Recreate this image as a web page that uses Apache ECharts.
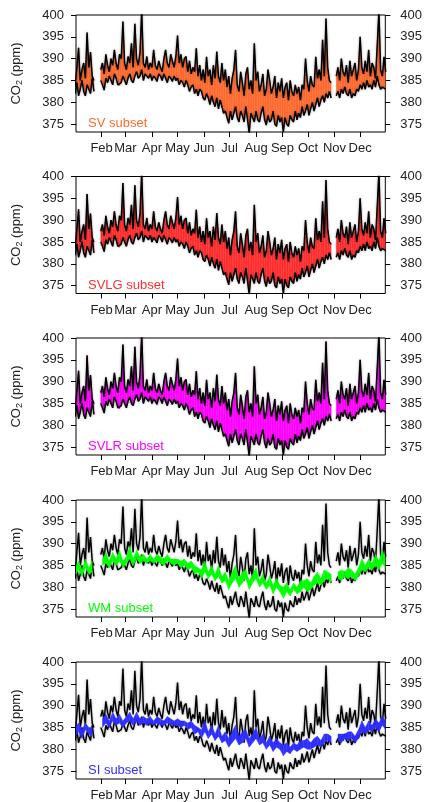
<!DOCTYPE html>
<html><head><meta charset="utf-8">
<script src="https://cdn.jsdelivr.net/npm/echarts@6/dist/echarts.min.js"></script>
<style>html,body{margin:0;padding:0;background:#fff}#c{width:425px;height:802px}</style>
</head><body><div id="c"></div>
<script>
// ---- axis ticks / labels ----
const monthTickDays = [32, 60, 91, 121, 152, 182, 213, 244, 274, 305, 335];
const monthLabels = ['Feb', 'Mar', 'Apr', 'May', 'Jun', 'Jul', 'Aug', 'Sep', 'Oct', 'Nov', 'Dec'];
const yTicks = [375, 380, 385, 390, 395, 400];
const panelNames = ['SV subset', 'SVLG subset', 'SVLR subset', 'WM subset', 'SI subset'];
const panelColors = ['#FF6A2F', '#FF2E2E', '#FF00FF', '#00FF00', '#2E2EFF'];

// ---- full-ensemble envelope, every 2nd day starting Jan 1 (ppm) ----
const ensembleUpper = [
  383.5, 388, 392.5, 385, 387.5, 389, 385.5, 396, 388, 391.5, 386, 385,
  null, null, null,
  387.5, 389, 386.5, 391, 388.5, 387, 390, 388.5, 392, 389, 387.5, 391, 390, 398.5, 389,
  387.5, 390.5, 389, 393.5, 388, 398, 390, 388.5, 391.5, 401, 389, 388, 390.5, 387.5, 389, 388,
  392, 388.5, 387.5, 389.5, 388, 387, 390, 392, 389, 388, 391, 389.5, 388, 390.5, 395.3,
  389, 391, 388, 390, 390.5, 387, 389.5, 386.5, 388, 387, 392.4, 386, 388.5, 385, 387.5,
  384.5, 390.4, 386, 387.5, 384, 388.5, 385.5, 391.6, 386, 384.5, 389, 385, 387.5, 383.5, 386,
  382, 385.5, 387.5, 392, 384, 382.5, 387, 384.5, 381.5, 386.5, 388, 383, 385, 382, 393.5,
  385, 387, 382.5, 384, 386.5, 381.5, 383, 387.5, 385, 382, 383.5, 386, 381, 384.5, 382.5, 385.5,
  381, 383.5, 384.5, 380.5, 385, 382.5, 381.5, 384, 382, 383.5, 380.5, 384, 383, 390, 385,
  382.5, 386, 384, 383.5, 390.4, 385.5, 387.5, 385, 394.3, 386, 399.2, 388, 385, 384.5,
  null, null, 386, 388, 385, 390, 387, 386, 388.5, 384.5, 389.5, 386, 387.5, 389, 385, 387.5, 395,
  388, 386.5, 389.5, 387, 392, 386, 389, 388, 385.5, 393, 401, 387.5, 386, 390.4, 387
];
const ensembleLower = [
  382, 384.5, 381.5, 383, 385, 382.5, 381.5, 384, 383, 382, 385.5, 382.5,
  null, null, null,
  385, 384, 382.8, 385.5, 384.5, 386, 385, 384, 386.5, 385.5, 384, 383.8, 384.5, 386, 385,
  384, 385.5, 386.5, 385, 384.5, 386, 387, 385.5, 386, 387.5, 385, 386.5, 386, 385.5, 386.5, 385,
  386, 385.5, 384.8, 386.5, 386, 385, 386.5, 385.5, 384.5, 386, 385.5, 384.8, 386, 385, 385.5,
  384, 385, 384.5, 383.5, 385, 384, 382.5, 383.5, 384, 382, 383, 381.5, 383, 382.5, 381,
  380.5, 382, 381, 379.5, 381.5, 380, 379, 381, 378.5, 380.5, 379, 377.5, 378, 376.5, 375.2,
  378, 376, 377.5, 379, 376.5, 375.5, 378, 377, 375.5, 379, 376, 373, 377.5, 376.5, 375.5,
  378, 376, 375.5, 377.5, 379, 376, 374.8, 377, 375.5, 376, 378, 375, 374.5, 377, 375.5, 376.5,
  373.2, 376.5, 375, 374.5, 377, 376, 375.5, 378, 376, 377.5, 376.5, 379, 377, 378, 379.5,
  377, 378.5, 380, 378, 379.5, 381, 379, 380.5, 381.5, 380, 382, 381, 382.5, 381,
  null, null, 381.5, 382.5, 381, 383, 382, 383.5, 382, 381.5, 383, 381, 382, 381.5, 383, 382.5, 384,
  383, 384.5, 383, 385, 383.5, 384, 383, 385, 383.5, 386, 384, 383, 383.5, 383.5, 383
];

// ---- WM subset range, every 4th day starting Jan 1 (ppm) ----
const wmLower = [
  382.5, 384, 382.5, 384.5, 383, 383.5, null, null, 385, 385.5,
  384.5, 386, 385, 386, 384.5, 385.5, 386.5, 385, 386.5, 385.5,
  386, 385.5, 386, 385.5, 386, 385.5, 385, 386, 385.5, 385,
  385.5, 384.5, 385, 384, 384.5, 383, 383.5, 382, 383.5, 382,
  383, 381.5, 382.5, 381, 381.5, 379.5, 381, 382, 380, 381,
  382, 379.5, 381, 382, 380, 381, 379.5, 380.5, 378.5, 380,
  379, 377.5, 379, 378, 379.5, 378.5, 379, 380, 379, 379.5,
  380.5, 381, 380.5, 381.5, 382, 381, null, 382, 381.5, 382.5,
  382, 382.5, 381.5, 382.5, 384, 383.5, 384.5, 384, 385, 384,
  385.5, 384.5
];
const wmUpper = [
  384.5, 386, 384, 386.5, 384.5, 386, null, null, 386.5, 388,
  386, 388, 386.5, 388.5, 386, 387, 389.5, 386.5, 388.5, 387,
  387.5, 386.5, 387.5, 386.5, 387.5, 387, 386.5, 387.5, 386.5, 386.5,
  386.5, 386, 386.5, 385.5, 386, 385, 384.5, 384, 386, 383.5,
  385, 383, 385, 382.5, 383.5, 381.5, 383.5, 385, 382, 383.5,
  384, 381.5, 383, 384.5, 381.5, 383, 381, 382.5, 380.5, 382,
  380.5, 380, 381, 379.5, 381, 380, 381.5, 381.5, 382, 381,
  382.5, 383.5, 382, 384, 383.5, 383, null, 383.5, 384, 383.5,
  384.5, 384, 383, 384.5, 386.5, 385, 386.5, 385.5, 387.5, 386,
  388.5, 386.5
];

// ---- SI subset range, every 4th day starting Jan 1 (ppm) ----
const siLower = [
  383, 384, 382.5, 384.5, 383.5, 383, null, null, 385, 386,
  385, 386.5, 385.5, 386, 385, 386, 386.5, 385.5, 386.5, 385.5,
  386, 385.5, 386, 385.5, 386, 385.5, 385.5, 386, 385.5, 385.5,
  385.5, 385, 385.5, 384.5, 385, 383.5, 384, 382.5, 384, 382.5,
  383.5, 382, 383, 381.5, 382, 380.5, 381.5, 382.5, 381, 381.5,
  382.5, 380.5, 381.5, 382.5, 381, 381.5, 380, 381, 379.5, 380.5,
  380, 378.5, 379.5, 379, 380, 379.5, 380, 380.5, 380, 380,
  380.5, 381, 380.5, 381.5, 382, 381.5, null, 382, 381.5, 382.5,
  382, 382.5, 381.5, 382.5, 384, 383.5, 384.5, 384, 385, 384,
  385.5, 384.5
];
const siUpper = [
  385, 386, 384.5, 386, 385, 385, null, null, 387, 388,
  386.5, 388.5, 387, 388, 386.5, 387.5, 388.5, 387, 388.5, 387,
  387.5, 387, 387.5, 386.5, 387.5, 387, 386.5, 387.5, 387, 386.5,
  387, 386.5, 386.5, 386, 386.5, 385.5, 385, 384.5, 386.5, 384,
  385.5, 383.5, 385.5, 383, 384, 382.5, 384, 385.5, 383, 384,
  384.5, 382.5, 383.5, 385, 382.5, 383.5, 381.5, 383, 381.5, 382.5,
  381.5, 381, 381.5, 380.5, 381.5, 381, 382, 382, 382.5, 381.5,
  382.5, 383, 382, 383.5, 383.5, 383, null, 383.5, 383.5, 383.5,
  384, 384, 383, 384.5, 386.5, 385, 386.5, 385.5, 387, 386,
  387.5, 386.5
];

// day of year for each sample (regular sampling)
const envDays = ensembleUpper.map((_, i) => 1 + 2 * i);
const subDays = wmUpper.map((_, i) => 1 + 4 * i);

const FONT = 'Liberation Sans, Arial, Helvetica, sans-serif';
const TXT = '#222';
const panelTops = [15, 176.5, 338, 500, 662];
const panelH = 117;

function lineSeries(k, days, vals) {
  return {
    type: 'line', xAxisIndex: k, yAxisIndex: 2 * k,
    data: days.map((d, i) => [d, vals[i]]),
    symbol: 'none', showSymbol: false, connectNulls: false, clip: true, silent: true,
    lineStyle: { color: '#000', width: 1.45, shadowColor: 'rgba(0,0,0,0.4)', shadowBlur: 2.5 },
    z: 3
  };
}
function bandSeries(k, days, lo, hi, color, z) {
  const items = [];
  for (let i = 0; i < days.length - 1; i++) {
    items.push([days[i], lo[i], hi[i], days[i + 1], lo[i + 1], hi[i + 1]]);
  }
  return {
    type: 'custom', xAxisIndex: k, yAxisIndex: 2 * k, silent: true, z: z,
    encode: { x: [0, 3], y: [1, 2, 4, 5] },
    data: items,
    renderItem: function (params, api) {
      const x0 = api.value(0), l0 = api.value(1), h0 = api.value(2);
      const x1 = api.value(3), l1 = api.value(4), h1 = api.value(5);
      if ([l0, h0, l1, h1].some(v => v == null || isNaN(v))) return null;
      const cs = params.coordSys;
      return {
        type: 'polygon',
        shape: { points: [api.coord([x0, l0]), api.coord([x1, l1]), api.coord([x1, h1]), api.coord([x0, h0])] },
        style: { fill: color, stroke: color, lineWidth: 0.4 },
        clipPath: { type: 'rect', shape: { x: cs.x, y: cs.y, width: cs.width, height: cs.height } }
      };
    }
  };
}

const grids = [], xAxes = [], yAxes = [], series = [], titles = [];
for (let k = 0; k < 5; k++) {
  grids.push({ left: 76, right: 37, top: panelTops[k], height: panelH, show: true, borderColor: '#000', borderWidth: 1, backgroundColor: 'transparent' });
  xAxes.push({
    gridIndex: k, type: 'value', min: 2, max: 364.5,
    axisLine: { show: false }, splitLine: { show: false },
    axisTick: { show: true, customValues: monthTickDays, length: 5, lineStyle: { color: '#000' } },
    axisLabel: { customValues: monthTickDays, formatter: v => monthLabels[monthTickDays.indexOf(v)] || '', margin: 10, fontSize: 13, color: TXT, fontFamily: FONT }
  });
  const yBase = {
    gridIndex: k, type: 'value', min: 373.2, max: 400,
    axisLine: { show: false }, splitLine: { show: false },
    axisTick: { show: true, customValues: yTicks, length: 5, lineStyle: { color: '#000' } }
  };
  yAxes.push(Object.assign({}, yBase, {
    position: 'left',
    axisLabel: { customValues: yTicks, margin: 12, fontSize: 13, color: TXT, fontFamily: FONT },
    name: '{a|CO}{s|2}{a| (ppm)}', nameLocation: 'middle', nameGap: 52,
    nameTextStyle: {
      color: TXT, fontFamily: FONT, fontSize: 13,
      rich: {
        a: { fontSize: 13, color: TXT, fontFamily: FONT },
        s: { fontSize: 9, color: TXT, fontFamily: FONT, verticalAlign: 'bottom', padding: [6, 0, 0, 0] }
      }
    }
  }));
  yAxes.push(Object.assign({}, yBase, {
    position: 'right',
    axisLabel: { customValues: yTicks, margin: 15, fontSize: 13, color: TXT, fontFamily: FONT }
  }));
  if (k < 3) {
    series.push(bandSeries(k, envDays, ensembleLower, ensembleUpper, panelColors[k], 2));
    series.push(lineSeries(k, envDays, ensembleUpper));
    series.push(lineSeries(k, envDays, ensembleLower));
  } else {
    series.push(lineSeries(k, envDays, ensembleUpper));
    series.push(lineSeries(k, envDays, ensembleLower));
    const lo = k === 3 ? wmLower : siLower;
    const hi = k === 3 ? wmUpper : siUpper;
    series.push(bandSeries(k, subDays, lo, hi, panelColors[k], 4));
  }
  titles.push({
    text: panelNames[k], left: 88, top: panelTops[k] + 102, padding: 0,
    textStyle: { color: panelColors[k], fontSize: 13, fontWeight: 'normal', fontFamily: FONT }
  });
}

const chart = echarts.init(document.getElementById('c'), null, { renderer: 'canvas' });
chart.setOption({
  animation: false,
  backgroundColor: '#fff',
  title: titles,
  grid: grids,
  xAxis: xAxes,
  yAxis: yAxes,
  series: series
});
</script>
</body></html>
